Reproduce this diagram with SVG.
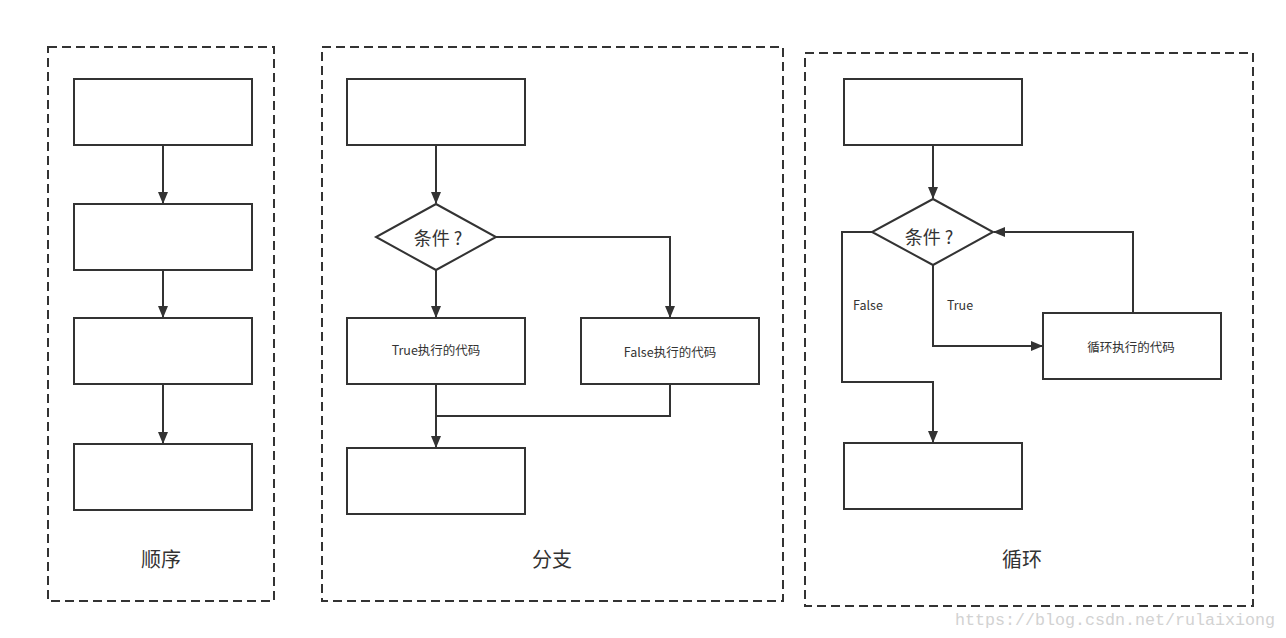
<svg xmlns="http://www.w3.org/2000/svg" width="1286" height="638" viewBox="0 0 1286 638">
<style>
.frame{fill:none;stroke:#333;stroke-width:2;stroke-dasharray:9,5}
.box{fill:#fff;stroke:#333;stroke-width:2}
.line{fill:none;stroke:#333;stroke-width:2}
.t{font-family:"Noto Sans CJK SC","Liberation Sans",sans-serif;fill:#333;text-anchor:middle;dominant-baseline:central}
.big{font-size:20px}
.mid{font-size:18px}
.sm{font-size:12.5px}
.wm{font-family:"Liberation Mono",monospace;font-size:16.7px;fill:#d2d2d2}
</style>
<defs>
<marker id="ah" markerWidth="12" markerHeight="10" refX="11" refY="5" orient="auto" markerUnits="userSpaceOnUse" viewBox="0 0 12 10">
<path d="M0,0 L12,5 L0,10 z" fill="#333"/>
</marker>
</defs>
<rect width="1286" height="638" fill="#fff"/>
<g id="frames">
<rect class="frame" x="48" y="47" width="226" height="554"/>
<rect class="frame" x="322" y="47" width="461" height="554"/>
<rect class="frame" x="805" y="53" width="448" height="553"/>
</g>
<g id="connectors">
<path class="line" d="M163,145 V203" marker-end="url(#ah)"/>
<path class="line" d="M163,270 V317" marker-end="url(#ah)"/>
<path class="line" d="M163,384 V443" marker-end="url(#ah)"/>
<path class="line" d="M436,145 V203" marker-end="url(#ah)"/>
<path class="line" d="M436,270 V317" marker-end="url(#ah)"/>
<path class="line" d="M496,237 H670 V317" marker-end="url(#ah)"/>
<path class="line" d="M436,384 V447" marker-end="url(#ah)"/>
<path class="line" d="M670,384 V416 H436"/>
<path class="line" d="M933,145 V198" marker-end="url(#ah)"/>
<path class="line" d="M933,265 V346 H1042" marker-end="url(#ah)"/>
<path class="line" d="M1133,313 V232 H994" marker-end="url(#ah)"/>
<path class="line" d="M872,232 H842 V382 H933 V442" marker-end="url(#ah)"/>
</g>
<g id="seq1"><rect class="box" x="74" y="79" width="178" height="66"/></g>
<g id="seq2"><rect class="box" x="74" y="204" width="178" height="66"/></g>
<g id="seq3"><rect class="box" x="74" y="318" width="178" height="66"/></g>
<g id="seq4"><rect class="box" x="74" y="444" width="178" height="66"/></g>
<g id="br-top"><rect class="box" x="347" y="79" width="178" height="66"/></g>
<g id="br-cond"><path class="box" d="M436,204 L496,237 L436,270 L376,237 z"/><text class="t mid" x="438" y="237">条件 ?</text></g>
<g id="br-true"><rect class="box" x="347" y="318" width="178" height="66"/><text class="t sm" x="436" y="349">True执行的代码</text></g>
<g id="br-false"><rect class="box" x="581" y="318" width="178" height="66"/><text class="t sm" x="670" y="351">False执行的代码</text></g>
<g id="br-bottom"><rect class="box" x="347" y="448" width="178" height="66"/></g>
<g id="lp-top"><rect class="box" x="844" y="79" width="178" height="66"/></g>
<g id="lp-cond"><path class="box" d="M933,199 L993,232 L933,265 L872,232 z"/><text class="t mid" x="929" y="236">条件 ?</text></g>
<g id="lp-body"><rect class="box" x="1043" y="313" width="178" height="66"/><text class="t sm" x="1131" y="346">循环执行的代码</text></g>
<g id="lp-bottom"><rect class="box" x="844" y="443" width="178" height="66"/></g>
<g id="labels">
<text class="t sm" x="868" y="304">False</text>
<text class="t sm" x="960" y="304">True</text>
<text class="t big" x="161" y="558">顺序</text>
<text class="t big" x="552" y="558">分支</text>
<text class="t big" x="1022" y="558">循环</text>
</g>
<text class="wm" x="955" y="625" textLength="320">https://blog.csdn.net/rulaixiong</text>
</svg>
